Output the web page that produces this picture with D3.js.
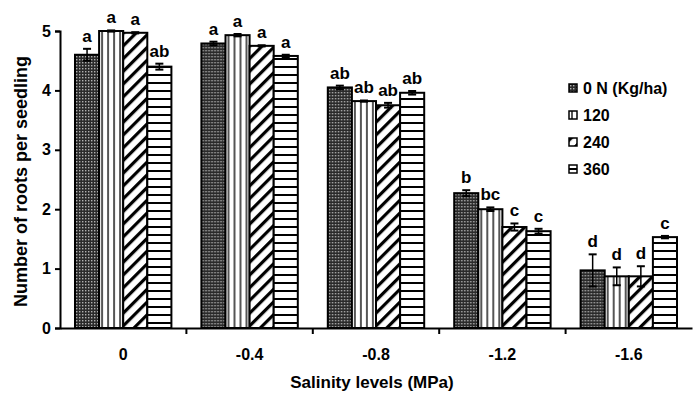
<!DOCTYPE html>
<html>
<head>
<meta charset="utf-8">
<script src="https://cdn.jsdelivr.net/npm/d3@7"></script>
<style>
  body { margin: 0; background: #fff; }
  text { font-family: "Liberation Sans", Arial, sans-serif; font-weight: bold; fill: #000; }
</style>
</head>
<body>
<div id="chart"></div>
<script>
// salinity levels on x
var categories = ["0", "-0.4", "-0.8", "-1.2", "-1.6"];
var series = ["0 N (Kg/ha)", "120", "240", "360"];

// means per nitrogen level, one array per series
var n0 = [4.60, 4.79, 4.05, 2.27, 0.97];
var n120 = [5.00, 4.93, 3.82, 2.00, 0.87];
var n240 = [4.97, 4.75, 3.75, 1.70, 0.87];
var n360 = [4.40, 4.58, 3.96, 1.63, 1.53];

// standard errors
var e0 = [0.10, 0.03, 0.03, 0.05, 0.27];
var e120 = [0.01, 0.02, 0.01, 0.03, 0.15];
var e240 = [0.01, 0.01, 0.04, 0.06, 0.17];
var e360 = [0.05, 0.02, 0.03, 0.04, 0.02];

// significance letters
var l0 = ["a", "a", "ab", "b", "d"];
var l120 = ["a", "a", "ab", "bc", "d"];
var l240 = ["a", "a", "ab", "c", "d"];
var l360 = ["ab", "a", "ab", "c", "c"];

var yTicks = [0, 1, 2, 3, 4, 5];

var means = [n0, n120, n240, n360];
var errs = [e0, e120, e240, e360];
var letters = [l0, l120, l240, l360];

var margin = { top: 31, right: 1, bottom: 67, left: 60 };
var width = 693 - margin.left - margin.right,
    height = 395 - margin.top - margin.bottom;

var svg = d3.select("#chart").append("svg")
    .attr("width", 693)
    .attr("height", 395);

// fill patterns
var defs = svg.append("defs");

var p0 = defs.append("pattern").attr("id", "pat0")
    .attr("patternUnits", "userSpaceOnUse").attr("width", 3).attr("height", 3);
p0.append("rect").attr("width", 3).attr("height", 3).attr("fill", "#2a2a2a");
p0.append("rect").attr("x", 1).attr("y", 1).attr("width", 1.4).attr("height", 1.4).attr("fill", "#b0b0b0");

var p1 = defs.append("pattern").attr("id", "pat1")
    .attr("patternUnits", "userSpaceOnUse").attr("width", 6).attr("height", 6);
p1.append("rect").attr("width", 6).attr("height", 6).attr("fill", "#fff");
p1.append("rect").attr("x", 2).attr("width", 2).attr("height", 6).attr("fill", "#555");

var p2 = defs.append("pattern").attr("id", "pat2")
    .attr("patternUnits", "userSpaceOnUse").attr("width", 9).attr("height", 9)
    .attr("patternTransform", "rotate(45)");
p2.append("rect").attr("width", 9).attr("height", 9).attr("fill", "#fff");
p2.append("rect").attr("width", 3.2).attr("height", 9).attr("fill", "#000");

var p3 = defs.append("pattern").attr("id", "pat3")
    .attr("patternUnits", "userSpaceOnUse").attr("width", 8).attr("height", 8);
p3.append("rect").attr("width", 8).attr("height", 8).attr("fill", "#fff");
p3.append("rect").attr("y", 3).attr("width", 8).attr("height", 2).attr("fill", "#000");

var fills = ["url(#pat0)", "url(#pat1)", "url(#pat2)", "url(#pat3)"];

var g = svg.append("g")
    .attr("transform", "translate(" + margin.left + "," + margin.top + ")");

var x0 = d3.scaleBand().domain(categories).range([0, width]).padding(0);
var x1 = d3.scaleBand().domain(series).range([15, x0.bandwidth() - 15]).padding(0);
var y = d3.scaleLinear().domain([0, 5]).range([height, 0]);

// y axis
var yAxis = g.append("g")
    .call(d3.axisLeft(y).tickValues(yTicks).tickFormat(d3.format("d")).tickSize(5).tickPadding(4));
yAxis.select(".domain").attr("stroke", "#000").attr("stroke-width", 2);
yAxis.selectAll(".tick line").attr("stroke-width", 2);
yAxis.selectAll("text").style("font-size", "16px");

// bars
var rows = [];
categories.forEach(function(c, i) {
    series.forEach(function(s, j) {
        rows.push({ cat: c, ser: s, j: j, v: means[j][i], e: errs[j][i], lab: letters[j][i] });
    });
});

var bar = g.selectAll(".bar")
    .data(rows)
    .enter()
    .append("g")
    .attr("class", "bar")
    .attr("transform", function(d) { return "translate(" + (x0(d.cat) + x1(d.ser)) + ",0)"; });

bar.append("rect")
    .attr("x", 0)
    .attr("width", x1.bandwidth())
    .attr("y", function(d) { return y(d.v); })
    .attr("height", function(d) { return height - y(d.v); })
    .attr("fill", function(d) { return fills[d.j]; })
    .attr("stroke", "#000")
    .attr("stroke-width", 2);

// error bars
var cx = x1.bandwidth() / 2;
bar.append("line")
    .attr("x1", cx).attr("x2", cx)
    .attr("y1", function(d) { return y(d.v - d.e); })
    .attr("y2", function(d) { return y(d.v + d.e); })
    .attr("stroke", "#000").attr("stroke-width", 1.5);
bar.append("line")
    .attr("x1", cx - 4).attr("x2", cx + 4)
    .attr("y1", function(d) { return y(d.v + d.e); })
    .attr("y2", function(d) { return y(d.v + d.e); })
    .attr("stroke", "#000").attr("stroke-width", 2);
bar.append("line")
    .attr("x1", cx - 4).attr("x2", cx + 4)
    .attr("y1", function(d) { return y(d.v - d.e); })
    .attr("y2", function(d) { return y(d.v - d.e); })
    .attr("stroke", "#000").attr("stroke-width", 2);

bar.append("text")
    .attr("x", cx)
    .attr("y", function(d) { return y(d.v + d.e) - 7; })
    .attr("text-anchor", "middle")
    .style("font-size", "17px")
    .text(function(d) { return d.lab; });

// x axis
var xAxis = g.append("g")
    .attr("transform", "translate(0," + height + ")")
    .call(d3.axisBottom(x0).tickSize(0).tickPadding(21));
xAxis.select(".domain").attr("stroke", "#000").attr("stroke-width", 2);
xAxis.selectAll("text").style("font-size", "16px");
xAxis.selectAll(".sep")
    .data(categories.slice(1))
    .enter()
    .append("line")
    .attr("class", "sep")
    .attr("x1", function(d) { return x0(d); })
    .attr("x2", function(d) { return x0(d); })
    .attr("y1", 0).attr("y2", 6)
    .attr("stroke", "#000").attr("stroke-width", 2);

// axis titles
svg.append("text")
    .attr("transform", "translate(27," + (margin.top + height / 2 + 2) + ") rotate(-90)")
    .attr("text-anchor", "middle")
    .style("font-size", "18px")
    .text("Number of roots per seedling");

svg.append("text")
    .attr("x", 372)
    .attr("y", 388)
    .attr("text-anchor", "middle")
    .style("font-size", "17px")
    .text("Salinity levels (MPa)");

// legend
var legend = svg.append("g").attr("transform", "translate(569,84)");
var item = legend.selectAll(".item")
    .data(series)
    .enter()
    .append("g")
    .attr("class", "item")
    .attr("transform", function(d, i) { return "translate(0," + (i * 27) + ")"; });
item.append("rect")
    .attr("width", 8).attr("height", 8)
    .attr("fill", function(d, i) { return fills[i]; })
    .attr("stroke", "#000").attr("stroke-width", 1.5);
item.append("text")
    .attr("x", 14).attr("y", 10)
    .style("font-size", "16px")
    .text(function(d) { return d; });
</script>
</body>
</html>
